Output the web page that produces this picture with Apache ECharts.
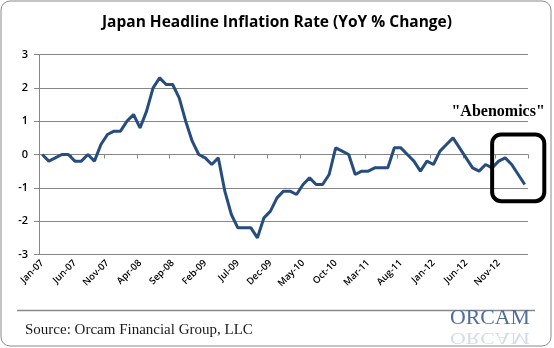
<!DOCTYPE html>
<html><head><meta charset="utf-8">
<script src="https://cdn.jsdelivr.net/npm/echarts@6/dist/echarts.min.js"></script>
<style>html,body{margin:0;padding:0;background:#fff}#c{width:554px;height:348px}</style>
</head><body><div id="c"></div>
<script>
const title = 'Japan Headline Inflation Rate (YoY % Change)';
const months = [
'Jan-07','Feb-07','Mar-07','Apr-07','May-07','Jun-07','Jul-07','Aug-07','Sep-07','Oct-07','Nov-07','Dec-07',
'Jan-08','Feb-08','Mar-08','Apr-08','May-08','Jun-08','Jul-08','Aug-08','Sep-08','Oct-08','Nov-08','Dec-08',
'Jan-09','Feb-09','Mar-09','Apr-09','May-09','Jun-09','Jul-09','Aug-09','Sep-09','Oct-09','Nov-09','Dec-09',
'Jan-10','Feb-10','Mar-10','Apr-10','May-10','Jun-10','Jul-10','Aug-10','Sep-10','Oct-10','Nov-10','Dec-10',
'Jan-11','Feb-11','Mar-11','Apr-11','May-11','Jun-11','Jul-11','Aug-11','Sep-11','Oct-11','Nov-11','Dec-11',
'Jan-12','Feb-12','Mar-12','Apr-12','May-12','Jun-12','Jul-12','Aug-12','Sep-12','Oct-12','Nov-12','Dec-12',
'Jan-13','Feb-13','Mar-13'];
const inflation = [
 0.0,-0.2,-0.1, 0.0, 0.0,-0.2,-0.2, 0.0,-0.2, 0.3, 0.6, 0.7,
 0.7, 1.0, 1.2, 0.8, 1.3, 2.0, 2.3, 2.1, 2.1, 1.7, 1.0, 0.4,
 0.0,-0.1,-0.3,-0.1,-1.1,-1.8,-2.2,-2.2,-2.2,-2.5,-1.9,-1.7,
-1.3,-1.1,-1.1,-1.2,-0.9,-0.7,-0.9,-0.9,-0.6, 0.2, 0.1, 0.0,
-0.6,-0.5,-0.5,-0.4,-0.4,-0.4, 0.2, 0.2, 0.0,-0.2,-0.5,-0.2,
-0.3, 0.1, 0.3, 0.5, 0.2,-0.1,-0.4,-0.5,-0.3,-0.4,-0.2,-0.1,
-0.3,-0.6,-0.9];
const yTicks = [-3,-2,-1,0,1,2,3];
const annotationText = '"Abenomics"';
const sourceText = 'Source: Orcam Financial Group, LLC';
const logoText = 'ORCAM';

const chart = echarts.init(document.getElementById('c'), null, {renderer:'canvas'});
const gridCol = '#878787';
const option = {
  animation:false,
  backgroundColor:'#fff',
  title:{text:title,left:'center',top:10,textStyle:{fontFamily:'Open Sans',fontWeight:'bold',fontSize:15.5,color:'#000'}},
  grid:{left:39,right:26,top:54.5,bottom:93.5,containLabel:false},
  xAxis:[
    {type:'category',data:months,position:'bottom',boundaryGap:true,
     axisLine:{show:false,onZero:false},axisTick:{show:false},splitLine:{show:false},
     axisLabel:{interval:4,rotate:45,fontFamily:'Open Sans',fontWeight:600,fontSize:9.5,color:'#000',margin:7}},
    {type:'category',data:months,position:'top',boundaryGap:true,
     axisLine:{show:true,onZero:true,lineStyle:{color:gridCol,width:1}},
     axisTick:{show:true,inside:true,interval:4,length:4,lineStyle:{color:gridCol}},
     axisLabel:{show:false},splitLine:{show:false}}
  ],
  yAxis:{type:'value',min:yTicks[0],max:yTicks[yTicks.length-1],interval:1,
    axisLine:{show:true,lineStyle:{color:gridCol}},
    axisTick:{show:true,length:5,lineStyle:{color:gridCol}},
    splitLine:{show:true,lineStyle:{color:gridCol,width:1}},
    axisLabel:{fontFamily:'Open Sans',fontWeight:600,fontSize:11,color:'#000',margin:11}},
  series:[{type:'line',data:inflation,xAxisIndex:0,showSymbol:false,symbol:'none',
    lineStyle:{color:'#264d7e',width:3},z:5}]
};
chart.setOption(option);

// annotation box placed through data coordinates
const p1 = chart.convertToPixel({xAxisIndex:0,yAxisIndex:0},[68.7,0.6]);
const p2 = chart.convertToPixel({xAxisIndex:0,yAxisIndex:0},[76.5,-1.4]);
chart.setOption({graphic:[
  {type:'rect',shape:{x:1,y:1,width:550,height:345,r:9},style:{fill:null,stroke:'#8a8a8a',lineWidth:1},silent:true,z:0},
  {type:'rect',shape:{x:p1[0],y:p1[1],width:p2[0]-p1[0],height:p2[1]-p1[1],r:9},style:{fill:null,stroke:'#000',lineWidth:4},z:10},
  {type:'text',x:p1[0]+6,y:p1[1]-23,style:{text:annotationText,fontFamily:'Liberation Serif',fontWeight:'bold',fontSize:16,fill:'#000',align:'center',verticalAlign:'middle'},z:10},
  {type:'line',shape:{x1:17,y1:310.5,x2:535,y2:310.5},style:{stroke:'#8a8a8a',lineWidth:1.5},z:1},
  {type:'text',x:25,y:330,style:{text:sourceText,fontFamily:'Liberation Serif',fontSize:15,fill:'#1a1a1a',verticalAlign:'middle'},z:1},
  {type:'text',x:450,y:329,scaleX:1.09,style:{text:logoText,fontFamily:'Liberation Serif',fontSize:20,verticalAlign:'bottom',fill:'#4d6f98'},z:2},
  {type:'text',x:450,y:329,scaleX:1.09,scaleY:-0.8,style:{text:logoText,fontFamily:'Liberation Serif',fontSize:20,verticalAlign:'bottom',fill:'rgba(100,130,170,0.28)'},z:2}
]});
</script></body></html>
